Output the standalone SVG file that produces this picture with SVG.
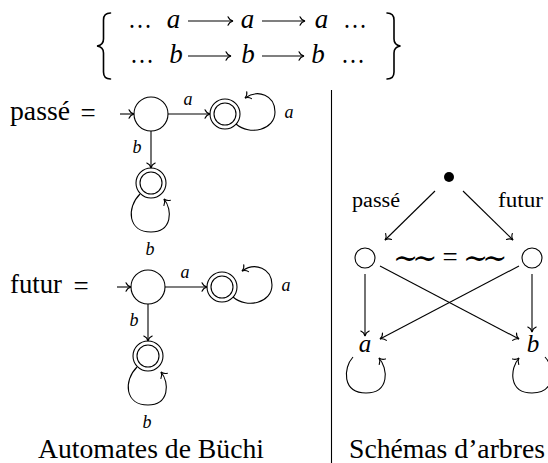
<svg xmlns="http://www.w3.org/2000/svg" width="548" height="463" viewBox="0 0 548 463">
  <defs>
    <!-- TeX-style "to" arrow tip -->
    <marker id="to" viewBox="-7 -6 9 12" refX="0" refY="0" markerWidth="9" markerHeight="12" markerUnits="userSpaceOnUse" orient="auto" overflow="visible">
      <path d="M-5,-4.2 C-4,-1.8 -2,-0.5 0,0 C-2,0.5 -4,1.8 -5,4.2" fill="none" stroke="#000" stroke-width="1.1" stroke-linecap="round"/>
    </marker>
  </defs>
  <style>
    text{fill:#000;font-family:"Liberation Serif","DejaVu Serif",serif}
    .big{font-size:27px}
    .m{font-style:italic}
    .var{font-size:25px;font-style:italic}
    .lbl{font-size:18px;font-style:italic}
    .small{font-size:20px}
    .sim{font-size:30px;letter-spacing:-6px}
    .st{fill:#fff;stroke:#000;stroke-width:1.1}
    .ln{fill:none;stroke:#000;stroke-width:1.1}
    .arr{fill:none;stroke:#000;stroke-width:1.1;marker-end:url(#to)}
    .brace{fill:none;stroke:#000;stroke-width:1.6;stroke-linecap:round}
  </style>
  <rect width="548" height="463" fill="#fff"/>

  <!-- set of the two infinite sequences -->
  <g id="sequences">
    <path class="brace" d="M110.5 13 C106 13 103.5 15.5 103.5 20 L103.5 39 C103.5 43 101 45.5 97 46 C101 46.5 103.5 49 103.5 53 L103.5 72 C103.5 76.5 106 79 110.5 79"/>
    <path class="brace" d="M387 13 C391.5 13 394 15.5 394 20 L394 39 C394 43 396.5 45.5 400.5 46 C396.5 46.5 394 49 394 53 L394 72 C394 76.5 391.5 79 387 79"/>
    <text class="big" x="128" y="28" textLength="24" lengthAdjust="spacingAndGlyphs">…</text>
    <text class="big m" x="173.5" y="28" text-anchor="middle">a</text>
    <line class="arr" x1="188" y1="21" x2="233" y2="21"/>
    <text class="big m" x="247.5" y="28" text-anchor="middle">a</text>
    <line class="arr" x1="262" y1="21" x2="305" y2="21"/>
    <text class="big m" x="321.5" y="28" text-anchor="middle">a</text>
    <text class="big" x="343" y="28" textLength="24" lengthAdjust="spacingAndGlyphs">…</text>

    <text class="big" x="130" y="63" textLength="24" lengthAdjust="spacingAndGlyphs">…</text>
    <text class="big m" x="176" y="63" text-anchor="middle">b</text>
    <line class="arr" x1="188" y1="56" x2="231" y2="56"/>
    <text class="big m" x="248" y="63" text-anchor="middle">b</text>
    <line class="arr" x1="262" y1="56" x2="304" y2="56"/>
    <text class="big m" x="318" y="63" text-anchor="middle">b</text>
    <text class="big" x="341" y="63" textLength="24" lengthAdjust="spacingAndGlyphs">…</text>
  </g>

  <!-- Büchi automaton for "passé" -->
  <text class="big" x="10" y="120" textLength="60" lengthAdjust="spacingAndGlyphs">passé</text>
  <text class="big" x="88" y="122" text-anchor="middle">=</text>
  <g id="aut-passe">
    <g id="passe-q0"><circle class="st" cx="151" cy="114" r="17"/></g>
    <g id="passe-q1"><circle class="st" cx="225" cy="114" r="15"/><circle class="st" cx="225" cy="114" r="11"/></g>
    <g id="passe-q2"><circle class="st" cx="151" cy="183" r="15"/><circle class="st" cx="151" cy="183" r="11"/></g>
    <g id="passe-edges">
      <line class="arr" x1="120" y1="114" x2="134" y2="114"/>
      <line class="arr" x1="168" y1="114" x2="210" y2="114"/>
      <text class="lbl" x="188" y="105" text-anchor="middle">a</text>
      <path class="arr" d="M236 124 C250 136 275 130 275 112 C275 95 258 89 245 98"/>
      <text class="lbl" x="289" y="118" text-anchor="middle">a</text>
      <line class="arr" x1="151" y1="131" x2="151" y2="168"/>
      <text class="lbl" x="137" y="153" text-anchor="middle">b</text>
      <path class="arr" d="M140 194 C126 208 128 232 151 232 C172 232 173 210 164 199"/>
      <text class="lbl" x="150" y="255" text-anchor="middle">b</text>
    </g>
  </g>

  <!-- Büchi automaton for "futur" (same shape, shifted down) -->
  <text class="big" x="10" y="293" textLength="52" lengthAdjust="spacingAndGlyphs">futur</text>
  <text class="big" x="81" y="295" text-anchor="middle">=</text>
  <g id="aut-futur" transform="translate(-3,173)">
    <g id="futur-q0"><circle class="st" cx="151" cy="114" r="17"/></g>
    <g id="futur-q1"><circle class="st" cx="225" cy="114" r="15"/><circle class="st" cx="225" cy="114" r="11"/></g>
    <g id="futur-q2"><circle class="st" cx="151" cy="183" r="15"/><circle class="st" cx="151" cy="183" r="11"/></g>
    <g id="futur-edges">
      <line class="arr" x1="120" y1="114" x2="134" y2="114"/>
      <line class="arr" x1="168" y1="114" x2="210" y2="114"/>
      <text class="lbl" x="188" y="105" text-anchor="middle">a</text>
      <path class="arr" d="M236 124 C250 136 275 130 275 112 C275 95 258 89 245 98"/>
      <text class="lbl" x="289" y="118" text-anchor="middle">a</text>
      <line class="arr" x1="151" y1="131" x2="151" y2="168"/>
      <text class="lbl" x="137" y="153" text-anchor="middle">b</text>
      <path class="arr" d="M140 194 C126 208 128 232 151 232 C172 232 173 210 164 199"/>
      <text class="lbl" x="150" y="255" text-anchor="middle">b</text>
    </g>
  </g>
  <text class="big" x="38" y="458" textLength="226" lengthAdjust="spacingAndGlyphs">Automates de Büchi</text>

  <!-- separator -->
  <line class="ln" x1="331.5" y1="90" x2="331.5" y2="463"/>

  <!-- tree schema -->
  <g id="tree-root"><circle cx="449" cy="177" r="5" fill="#000"/></g>
  <g id="tree-left"><circle class="st" cx="365" cy="258" r="10"/></g>
  <g id="tree-right"><circle class="st" cx="532" cy="258" r="10"/></g>
  <g id="tree-a"><text class="var" x="365" y="352" text-anchor="middle">a</text></g>
  <g id="tree-b"><text class="var" x="533" y="352" text-anchor="middle">b</text></g>
  <g id="tree-edges">
    <line class="arr" x1="435" y1="191" x2="385" y2="240"/>
    <line class="arr" x1="463" y1="191" x2="513" y2="240"/>
    <text class="small" x="352" y="207" textLength="48" lengthAdjust="spacingAndGlyphs">passé</text>
    <text class="small" x="498" y="207" textLength="45" lengthAdjust="spacingAndGlyphs">futur</text>
    <text class="sim" x="393" y="268">∼∼</text>
    <text class="big" x="450" y="266" text-anchor="middle">=</text>
    <text class="sim" x="463" y="268">∼∼</text>
    <line class="arr" x1="365" y1="274" x2="365" y2="336"/>
    <line class="arr" x1="532" y1="274" x2="532" y2="332"/>
    <line class="arr" x1="380" y1="266" x2="519" y2="339"/>
    <line class="arr" x1="519" y1="266" x2="380" y2="339"/>
    <path class="arr" d="M353 357 C343 368 342 393 366 393 C390 393 388 368 379 358"/>
    <path class="arr" d="M545 357 C555 368 556 393 532 393 C508 393 510 368 519 358"/>
  </g>
  <text class="big" x="349" y="458" textLength="196" lengthAdjust="spacingAndGlyphs">Schémas d’arbres</text>
</svg>
